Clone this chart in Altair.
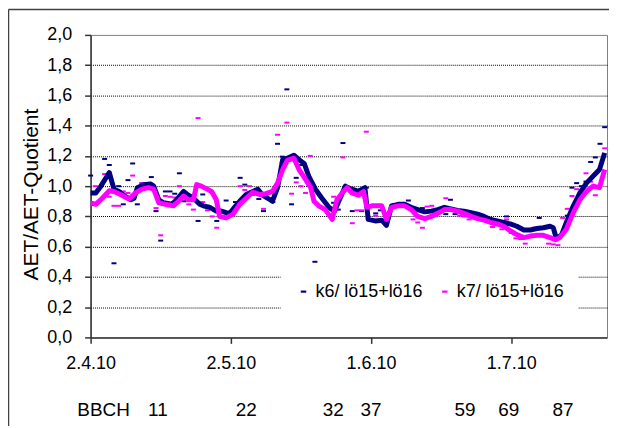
import altair as alt
import pandas as pd

FONT = "Liberation Sans"

series_names = ["k6/ lö15+lö16", "k7/ lö15+lö16"]
series_colors = ["#000080", "#ff00ff"]

start_date = "2010-04-02"
x_end_day = 110.5
tick_dates = ["2010-04-02", "2010-05-02", "2010-06-01", "2010-07-01"]
y_ticks = [0.0, 0.2, 0.4, 0.6, 0.8, 1.0, 1.2, 1.4, 1.6, 1.8, 2.0]

# daily values (day offset from 2.4.2010)
k6_pt_day = [0, 3, 4, 5, 6, 7, 8, 9, 10, 11, 13, 14, 15, 16, 17, 18, 19, 20, 23, 24, 25, 27, 29, 31, 32, 33,
             36, 37, 39, 40, 41, 42, 43, 44, 45, 48, 52, 53, 54, 56, 58, 59, 61, 62, 65, 68, 71, 76, 77, 78,
             89, 96, 101, 102, 103, 104, 105, 106, 107, 108, 109, 110]
k6_pt_val = [1.07, 1.18, 1.14, 0.49, 1.00, 0.88, 1.04, 1.15, 0.88, 1.02, 1.06, 0.835, 0.64, 0.965, 0.965, 0.95,
             1.085, 0.90, 0.77, 0.945, 0.87, 0.77, 0.905, 0.895, 1.055, 1.01, 0.915, 0.835, 0.895, 1.28, 1.195,
             1.64, 0.88, 1.055, 1.14, 0.50, 0.89, 0.845, 1.285, 0.835, 0.835, 0.99, 0.82, 0.84, 0.88, 0.905,
             0.855, 0.815, 0.91, 0.815, 0.80, 0.79, 0.445, 0.805, 0.99, 1.02, 1.00, 1.03, 1.16, 1.19, 1.28, 1.39]

k7_pt_day = [1, 3, 4, 5, 6, 7, 8, 9, 11, 14, 15, 16, 17, 18, 19, 20, 21, 22, 23, 24, 25, 26, 27, 32, 33, 34,
             36, 37, 38, 40, 41, 42, 43, 44, 45, 46, 47, 52, 54, 56, 57, 58, 59, 60, 61, 69, 70, 71, 72, 73,
             76, 79, 80, 81, 86, 88, 89, 90, 91, 92, 93, 95, 98, 99, 100, 101, 102, 103, 104, 106, 107, 108, 110]
k7_pt_val = [1.00, 1.08, 0.93, 0.87, 0.87, 0.965, 0.955, 1.07, 1.02, 0.855, 0.675, 0.935, 0.93, 0.925, 1.00,
             0.92, 0.88, 0.845, 1.45, 0.895, 0.84, 0.80, 0.725, 1.00, 0.975, 1.00, 0.945, 0.85, 0.955, 1.34,
             1.155, 1.42, 0.95, 1.025, 1.00, 0.955, 1.20, 0.93, 1.19, 0.755, 0.84, 0.84, 1.36, 0.435, 0.805,
             0.78, 0.76, 0.725, 0.865, 0.87, 0.92, 0.805, 0.80, 0.78, 0.73, 0.715, 0.78, 0.69, 0.655, 0.65,
             0.62, 0.725, 0.62, 0.615, 0.61, 0.79, 0.85, 0.935, 0.98, 1.085, 1.03, 0.94, 1.25]

# moving-average lines
k6_ln_day = [0, 1.1, 2.2, 4.0, 5.0, 6.1, 7.1, 8.6, 9.3, 10.0, 11.4, 12.8, 13.5, 14.6, 15.6, 17.4, 18.4, 19.9,
             20.9, 22.0, 23.4, 24.1, 25.5, 26.9, 28.0, 29.0, 29.8, 30.8, 31.9, 33.3, 34.7, 35.8, 36.8, 37.9,
             38.9, 40.0, 41.1, 42.1, 43.5, 44.6, 45.7, 46.7, 48.1, 49.5, 51.0, 52.2, 54.5, 55.9, 57.3, 58.7,
             59.4, 60.9, 62.3, 63.3, 64.4, 65.8, 67.2, 68.6, 70.0, 71.5, 72.9, 74.3, 75.7, 77.1, 78.5, 79.9,
             81.4, 82.8, 84.2, 85.6, 87.0, 88.4, 89.8, 91.2, 92.7, 94.1, 95.5, 96.9, 98.3, 99.0, 99.7, 100.8,
             101.8, 103.3, 104.7, 106.1, 107.5, 108.9, 110.0]
k6_ln_val = [0.955, 0.955, 1.0, 1.09, 0.98, 0.965, 0.94, 0.91, 0.92, 0.99, 1.01, 1.015, 1.0, 0.91, 0.89, 0.88,
             0.91, 0.965, 0.94, 0.92, 0.88, 0.87, 0.86, 0.835, 0.835, 0.825, 0.82, 0.86, 0.90, 0.945, 0.965,
             0.98, 0.94, 0.92, 0.90, 0.99, 1.175, 1.185, 1.205, 1.175, 1.15, 1.065, 0.98, 0.92, 0.86, 0.835,
             1.0, 0.98, 0.965, 0.99, 0.78, 0.77, 0.775, 0.74, 0.87, 0.88, 0.88, 0.86, 0.845, 0.83, 0.835,
             0.845, 0.86, 0.85, 0.84, 0.835, 0.825, 0.815, 0.80, 0.78, 0.77, 0.76, 0.75, 0.735, 0.71, 0.71,
             0.72, 0.725, 0.735, 0.725, 0.65, 0.68, 0.76, 0.87, 0.955, 1.02, 1.065, 1.11, 1.22]

k7_ln_day = [0, 1.1, 2.5, 4.0, 5.0, 6.4, 8.2, 9.6, 11.0, 12.4, 13.5, 14.6, 16.0, 17.7, 18.8, 19.9, 20.9, 22.0,
             22.7, 23.7, 25.9, 26.9, 27.6, 29.0, 30.5, 31.9, 33.3, 34.7, 36.1, 37.5, 38.9, 40.0, 41.1, 42.1,
             43.5, 44.6, 46.0, 47.1, 47.8, 48.8, 50.2, 51.7, 52.7, 54.1, 54.9, 55.9, 57.3, 58.4, 59.1, 60.2,
             62.3, 63.3, 64.4, 65.8, 67.2, 68.6, 70.0, 71.5, 72.9, 74.3, 75.7, 77.1, 78.5, 79.9, 81.4, 82.8,
             84.2, 85.6, 87.0, 88.4, 89.8, 91.2, 92.7, 94.1, 95.5, 96.9, 98.3, 99.4, 100.4, 101.8, 103.3,
             104.7, 106.1, 107.5, 108.9, 110.0]
k7_ln_val = [0.89, 0.88, 0.92, 0.97, 0.965, 0.945, 0.915, 0.955, 0.98, 0.99, 0.98, 0.89, 0.88, 0.87, 0.90,
             0.935, 0.91, 0.91, 1.01, 1.0, 0.965, 0.91, 0.80, 0.79, 0.815, 0.88, 0.92, 0.96, 0.945, 0.95,
             0.965, 1.02, 1.11, 1.17, 1.185, 1.11, 1.045, 0.99, 0.90, 0.87, 0.845, 0.78, 0.91, 0.965, 0.99,
             0.955, 0.94, 0.965, 0.86, 0.87, 0.87, 0.78, 0.86, 0.87, 0.87, 0.845, 0.80, 0.785, 0.80, 0.82,
             0.845, 0.845, 0.835, 0.82, 0.80, 0.785, 0.775, 0.76, 0.75, 0.735, 0.705, 0.68, 0.66, 0.67,
             0.675, 0.675, 0.66, 0.645, 0.66, 0.715, 0.825, 0.91, 0.965, 1.0, 0.99, 1.11]

bbch_header = "BBCH"
bbch_labels = ["11", "22", "32", "37", "59", "69", "87"]
bbch_day = [14.4, 33.3, 51.9, 60.0, 80.1, 89.5, 101.1]

# ---------------------------------------------------------------
base_ms = pd.Timestamp(start_date, tz="UTC").value // 10**6
DAY = 86400000


def to_ms(d):
    return base_ms + d * DAY


pts = pd.DataFrame({
    "t": [to_ms(d) for d in k6_pt_day] + [to_ms(d) for d in k7_pt_day],
    "v": k6_pt_val + k7_pt_val,
    "s": [series_names[0]] * len(k6_pt_day) + [series_names[1]] * len(k7_pt_day),
})
lns = pd.DataFrame({
    "t": [to_ms(d) for d in k6_ln_day] + [to_ms(d) for d in k7_ln_day],
    "v": k6_ln_val + k7_ln_val,
    "s": [series_names[0]] * len(k6_ln_day) + [series_names[1]] * len(k7_ln_day),
})
bb = pd.DataFrame({"t": [to_ms(d) for d in bbch_day], "lab": bbch_labels})

tick_ms = [pd.Timestamp(d, tz="UTC").value // 10**6 for d in tick_dates]

DASH = "M-1,-0.4H1V0.4H-1Z"

xscale = alt.Scale(type="utc", domain=[to_ms(0), to_ms(x_end_day)])
xaxis = alt.Axis(values=tick_ms, labelExpr="utcFormat(datum.value, '%-d.%-m.%y')", title=None,
                 labelFontSize=18, labelPadding=11, grid=False, labelFlush=False,
                 labelOverlap=False)
yscale = alt.Scale(domain=[0, 2], nice=False)
yaxis = alt.Axis(values=y_ticks, title="AET/AET-Quotient",
                 labelExpr="replace(format(datum.value, '.1f'), '.', ',')",
                 labelFontSize=18, labelPadding=13, grid=True,
                 gridColor="black", gridDash=[1, 1], gridWidth=1,
                 gridOpacity={"condition": {"test": "datum.value > 1.99 || datum.value < 0.01", "value": 0},
                              "value": 1},
                 titleFontSize=21, titleFontWeight="normal", titleX=-53, titleY=160,
                 titleBaseline="alphabetic", titleAngle=270)

X = alt.X("t:T", scale=xscale, axis=xaxis)
Y = alt.Y("v:Q", scale=yscale, axis=yaxis)
cscale = alt.Scale(domain=series_names, range=series_colors)

legend = alt.Legend(orient="none", legendX=191, legendY=235, direction="horizontal", columns=2,
                    title=None, fillColor="white", padding=14, labelFont=FONT, labelFontSize=18,
                    labelColor="black", symbolType=DASH, symbolSize=30, symbolStrokeWidth=0,
                    labelOffset=3, columnPadding=13, symbolOpacity=1)

points = alt.Chart(pts).mark_point(shape=DASH, size=25, filled=True, opacity=1, strokeWidth=0).encode(
    x=X, y=Y, color=alt.Color("s:N", scale=cscale, legend=legend))

lines = alt.Chart(lns).mark_line(strokeWidth=5, strokeJoin="round").encode(
    x=X, y=Y, color=alt.Color("s:N", scale=cscale, legend=None))

bbch_text = alt.Chart(bb).mark_text(fontSize=19, font=FONT, baseline="middle", color="black").encode(
    x=X, y=alt.value(377), text="lab:N")

hdr = alt.Chart(pd.DataFrame({"lab": [bbch_header]})).mark_text(
    fontSize=19, font=FONT, baseline="middle", color="black").encode(
    x=alt.value(13), y=alt.value(377), text="lab:N")

frame = alt.Chart(pd.DataFrame({"a": [0]}))
frame_l = frame.mark_rule(color="#404040", strokeWidth=1.5).encode(
    x=alt.value(-82.5), y=alt.value(-25.5), y2=alt.value(395))
frame_t = frame.mark_rule(color="#404040", strokeWidth=1.5).encode(
    x=alt.value(-82.5), x2=alt.value(530), y=alt.value(-25.5))

chart = alt.layer(frame_l, frame_t, points, lines, bbch_text, hdr).properties(
    width=519, height=304,
    autosize=alt.AutoSizeParams(type="none"),
    padding={"left": 83, "top": 26, "right": 2, "bottom": 88},
).configure(font=FONT).configure_view(stroke="#808080", strokeWidth=1).configure_axis(
    domainColor="#333333", domainWidth=1.5, tickColor="#333333", tickWidth=1.5, tickSize=6,
    labelColor="black", titleColor="black", labelFont=FONT, titleFont=FONT)

chart.save("out.html", embed_options={"renderer": "svg", "actions": False})
